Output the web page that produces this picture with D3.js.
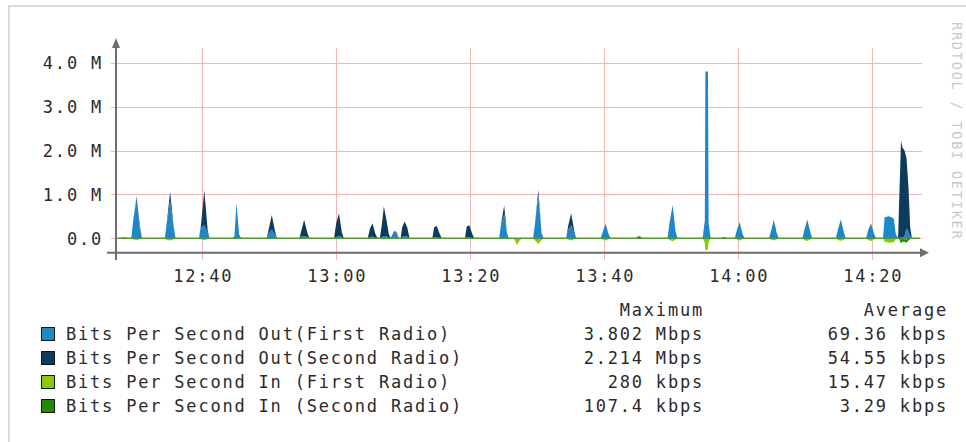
<!DOCTYPE html>
<html><head><meta charset="utf-8">
<script src="https://cdn.jsdelivr.net/npm/d3@7"></script>
<style>html,body{margin:0;padding:0;background:#fff;} svg{display:block;}</style>
</head><body><svg id="c" width="966" height="442"></svg>
<script>
// ---- data (values in Mbit/s; "In" traffic drawn below zero) ----
const times = [
"12:27:07",
"12:27:40","12:27:55","12:28:15","12:28:40","12:28:55",
"12:29:24","12:29:42","12:30:12","12:30:42","12:31:00",
"12:34:24","12:34:42","12:35:12","12:35:42","12:36:00",
"12:39:30","12:39:48","12:40:18","12:40:48","12:41:06",
"12:44:30","12:44:48","12:45:06","12:45:30","12:45:48",
"12:49:36","12:49:54","12:50:22","12:50:50","12:51:08",
"12:54:30","12:54:48","12:55:12","12:55:40","12:55:58",
"12:59:40","12:59:58","13:00:24","13:00:50","13:01:08",
"13:04:42","13:05:00","13:05:24","13:05:50","13:06:10",
"13:06:30","13:06:48","13:07:06","13:07:30","13:07:50",
"13:08:06","13:08:24","13:08:40","13:09:00","13:09:20",
"13:09:36","13:09:50","13:10:12","13:10:36","13:10:56",
"13:14:20","13:14:36","13:15:00","13:15:26","13:15:44",
"13:19:12","13:19:28","13:19:51","13:20:18","13:20:36",
"13:24:18","13:24:36","13:25:03","13:25:28","13:25:46",
"13:26:24","13:26:45","13:27:00","13:27:18","13:27:40",
"13:29:22","13:29:40","13:30:09","13:30:38","13:30:56",
"13:34:18","13:34:36","13:35:03","13:35:30","13:35:48",
"13:39:28","13:39:46","13:40:12","13:40:38","13:40:56",
"13:44:40","13:45:00","13:45:12","13:45:24","13:45:40",
"13:49:26","13:49:44","13:50:12","13:50:38","13:50:56",
"13:54:40","13:55:00","13:55:05","13:55:28","13:55:34","13:55:52",
"13:57:30","13:57:45","13:57:55","13:58:05","13:58:20",
"13:59:28","13:59:46","14:00:12","14:00:38","14:00:56",
"14:04:34","14:04:52","14:05:18","14:05:44","14:06:02",
"14:09:34","14:09:52","14:10:18","14:10:44","14:11:02",
"14:14:34","14:14:52","14:15:18","14:15:44","14:16:02",
"14:19:04","14:19:22","14:19:48","14:20:14","14:20:32",
"14:21:36","14:21:50","14:22:30","14:23:12","14:23:30",
"14:23:51","14:24:00","14:24:17","14:24:30","14:24:48","14:25:06","14:25:24","14:25:39","14:25:54","14:27:07"];
const outFirst = [
0,
0,.02,.02,.02,0,
0,.40,.93,.20,0,
0,.33,.86,.25,0,
0,.25,.30,.12,0,
0,.05,.80,.08,0,
0,.12,.20,.10,0,
0,.04,.05,.03,0,
0,.03,.05,.03,0,
0,.03,.04,0,0,
0,.02,.05,.05,0,
0,.10,.17,.12,0,
0,.03,.05,.04,0,
0,.03,.03,0,0,
0,.03,.03,0,0,
0,.30,.55,.12,0,
0,0,0,0,0,
0,.35,.98,.12,0,
0,.20,.30,.12,0,
0,.15,.33,.10,0,
0,.04,.05,.04,0,
0,.35,.76,.15,0,
0,.40,3.80,3.80,.35,0,
0,.03,.03,.03,0,
0,.18,.37,.10,0,
0,.15,.42,.12,0,
0,.20,.43,.15,0,
0,.20,.43,.15,0,
0,.18,.34,.12,0,
0,.48,.50,.45,.10,
0,0,.02,.02,.05,.23,.15,.05,0,0];
const outSecond = [
0,
0,0,0,0,0,
0,.03,.03,.05,0,
0,.03,.20,.04,0,
0,.05,.80,.05,0,
0,0,0,0,0,
0,.08,.33,.08,0,
0,.15,.37,.10,0,
0,.30,.52,.10,0,
0,.18,.30,.10,0,
0,.30,.68,.35,.10,
0,0,0,.02,0,
0,.22,.33,.20,0,
0,.22,.25,.10,0,
0,.24,.27,.10,0,
0,.03,.20,0,0,
0,0,0,0,0,
0,0,.12,0,0,
0,.08,.27,.05,0,
0,0,0,0,0,
0,0,0,0,0,
0,0,0,0,0,
0,0,0,0,0,0,
0,0,0,0,0,
0,0,0,0,0,
0,0,0,0,0,
0,0,0,0,0,
0,0,0,0,0,
0,0,0,0,0,
0,0,0,0,0,
0,.80,2.20,2.05,1.95,1.60,1.00,.20,0,0];
const inFirst = [
0,
0,0,0,0,0,
0,-.03,-.04,-.02,0,
0,-.04,-.05,-.02,0,
0,-.03,-.04,-.02,0,
0,0,-.02,0,0,
0,0,0,0,0,
0,0,0,0,0,
0,0,0,0,0,
0,0,0,0,0,
0,-.02,-.03,0,-.03,
0,0,0,0,0,
0,0,0,0,0,
0,0,0,0,0,
0,0,0,0,0,
0,0,0,0,0,
0,-.08,-.15,-.06,0,
0,-.05,-.13,-.04,0,
0,-.03,-.05,-.03,0,
0,-.03,-.05,-.02,0,
0,0,0,0,0,
0,-.04,-.07,-.03,0,
0,-.10,-.28,-.25,-.08,0,
0,0,0,0,0,
0,-.03,-.05,-.02,0,
0,-.03,-.05,-.02,0,
0,-.04,-.06,-.03,0,
0,-.04,-.06,-.03,0,
0,-.04,-.06,-.03,0,
0,-.08,-.10,-.09,-.02,
0,0,-.03,0,-.02,-.03,0,0,0,0];
const inSecond = [
0,
0,0,0,0,0,
0,0,0,0,0,
0,0,0,0,0,
0,0,0,0,0,
0,0,0,0,0,
0,0,0,0,0,
0,0,0,0,0,
0,0,0,0,0,
0,0,0,0,0,
0,0,0,0,0,
0,0,0,0,0,
0,0,0,0,0,
0,0,0,0,0,
0,0,0,0,0,
0,0,0,0,0,
0,0,0,0,0,
0,0,0,0,0,
0,0,0,0,0,
0,0,0,0,0,
0,0,0,0,0,
0,0,0,0,0,
0,0,0,0,0,0,
0,0,0,0,0,
0,0,0,0,0,
0,0,0,0,0,
0,0,0,0,0,
0,0,0,0,0,
0,0,0,0,0,
0,0,0,0,0,
0,-.02,-.08,-.08,-.06,-.07,-.05,-.02,0,0];

const yTicks = [0, 1, 2, 3, 4];
const yTickLabels = ["0.0", "1.0 M", "2.0 M", "3.0 M", "4.0 M"];
const xTicks = ["12:40", "13:00", "13:20", "13:40", "14:00", "14:20"];
const seriesNames = ["Bits Per Second Out(First Radio)", "Bits Per Second Out(Second Radio)",
                     "Bits Per Second In (First Radio)", "Bits Per Second In (Second Radio)"];
const maxLabels = ["3.802 Mbps", "2.214 Mbps", "280 kbps", "107.4 kbps"];
const avgLabels = ["69.36 kbps", "54.55 kbps", "15.47 kbps", "3.29 kbps"];
const colors = ["#1f87cb", "#0b3a5c", "#8acb00", "#258a00"];
const startTime = "12:27:07", endTime = "14:27:07";

// ---- drawing ----
const svg = d3.select("#c");
const parse = d3.timeParse("%H:%M:%S");
const FONT = "'DejaVu Sans Mono', monospace";
const TXT = "#2b2b2b";

const x = d3.scaleTime().domain([parse(startTime), parse(endTime)]).range([116, 920]);
const y = d3.scaleLinear().domain([0, 4]).range([238.3, 62.7]);
const plotTop = y(4.33), plotBottom = y(-0.33);

const defs = svg.append("defs");
defs.append("filter").attr("id", "soft").append("feGaussianBlur").attr("stdDeviation", 0.45);

svg.append("rect").attr("width", 966).attr("height", 442).attr("fill", "#ffffff");
// outer frame
svg.append("path").attr("d", "M9,442 V6 H966").attr("fill", "none")
   .attr("stroke", "#dadada").attr("stroke-width", 2);

// grid
const grid = svg.append("g").attr("stroke", "#f6b4b4").attr("stroke-width", 1);
yTicks.forEach(v => grid.append("line").attr("x1", 111).attr("x2", 922)
   .attr("y1", Math.round(y(v)) + 0.5).attr("y2", Math.round(y(v)) + 0.5));
xTicks.forEach(t => { const xx = Math.round(x(parse(t + ":00"))) + 0.5;
   grid.append("line").attr("x1", xx).attr("x2", xx).attr("y1", plotTop).attr("y2", 260); });

// data
const rows = times.map((t, i) => ({t: parse(t), a: outFirst[i], b: outSecond[i], c: inFirst[i], d: inSecond[i]}));
const area = (lo, hi) => d3.area().x(d => x(d.t)).y0(d => y(lo(d))).y1(d => y(hi(d)));
const g = svg.append("g").attr("filter", "url(#soft)");
g.append("path").datum(rows).attr("fill", colors[0]).attr("d", area(d => 0, d => d.a));
g.append("path").datum(rows).attr("fill", colors[1]).attr("d", area(d => d.a, d => d.a + d.b));
g.append("path").datum(rows).attr("fill", colors[2]).attr("d", area(d => 0, d => d.c));
g.append("path").datum(rows).attr("fill", colors[3]).attr("d", area(d => d.c, d => d.c + d.d));
// baseline rule at zero
g.append("line").attr("x1", x(parse(startTime))).attr("x2", x(parse(endTime)))
  .attr("y1", y(0)).attr("y2", y(0)).attr("stroke", "#4f9a2a").attr("stroke-width", 1.6);

// axes
const ax = svg.append("g").attr("stroke", "#6e6e6e").attr("fill", "#6e6e6e");
ax.append("line").attr("x1", 116).attr("x2", 116).attr("y1", 45).attr("y2", 260).attr("stroke-width", 2);
ax.append("line").attr("x1", 107).attr("x2", 922).attr("y1", plotBottom).attr("y2", plotBottom).attr("stroke-width", 2);
ax.append("path").attr("stroke", "none").attr("d", `M112,48 L116,38 L120,48 Z`);
ax.append("path").attr("stroke", "none").attr("d", `M920,${plotBottom-4.5} L929,${plotBottom} L920,${plotBottom+4.5} Z`);

// tick labels
const txt = svg.append("g").attr("font-family", FONT).attr("font-size", 17)
   .attr("letter-spacing", "1.8px").attr("fill", TXT);
yTicks.forEach((v, i) => txt.append("text").attr("x", 103).attr("y", y(v) + 6.5)
   .attr("text-anchor", "end").text(yTickLabels[i]));
xTicks.forEach(t => txt.append("text").attr("x", x(parse(t + ":00")) + 1).attr("y", 282)
   .attr("text-anchor", "middle").text(t));

// legend
txt.append("text").attr("x", 704).attr("y", 316).attr("text-anchor", "end").text("Maximum");
txt.append("text").attr("x", 948).attr("y", 316).attr("text-anchor", "end").text("Average");
seriesNames.forEach((n, i) => {
  const by = 340 + i * 24;
  svg.append("rect").attr("x", 41.5).attr("y", by - 12.5).attr("width", 13).attr("height", 13)
     .attr("fill", colors[i]).attr("stroke", "#111").attr("stroke-width", 1);
  txt.append("text").attr("x", 66).attr("y", by).text(n);
  txt.append("text").attr("x", 704).attr("y", by).attr("text-anchor", "end").text(maxLabels[i]);
  txt.append("text").attr("x", 948).attr("y", by).attr("text-anchor", "end").text(avgLabels[i]);
});

// watermark
svg.append("text").attr("transform", "translate(952,22) rotate(90)")
   .attr("font-family", FONT).attr("font-size", 13.5).attr("letter-spacing", "1.8px")
   .attr("fill", "#c8c8c8").text("RRDTOOL / TOBI OETIKER");
</script></body></html>
